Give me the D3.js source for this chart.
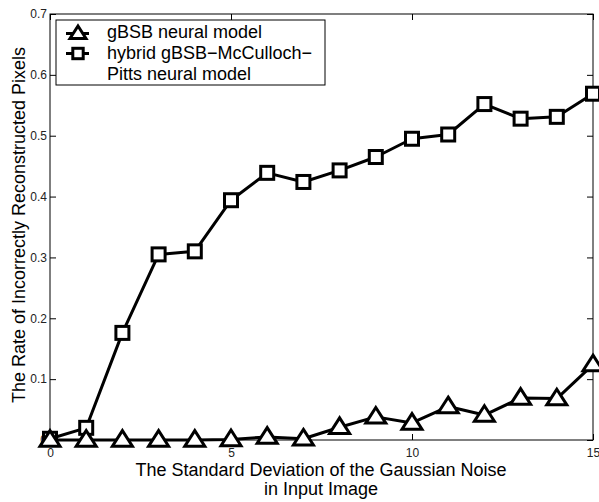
<!DOCTYPE html>
<html>
<head>
<meta charset="utf-8">
<script src="https://cdn.jsdelivr.net/npm/d3@7"></script>
<style>
  body { margin: 0; background: #fff; }
  svg text { font-family: "Liberation Sans", Arial, sans-serif; fill: #000; }
</style>
</head>
<body>
<svg id="plot" width="599" height="502"></svg>
<script>

// noise standard deviation
const NOISE = [0, 1, 2, 3, 4, 5, 6, 7, 8, 9, 10, 11, 12, 13, 14, 15];
// gBSB neural model
const GBSB = [0.0, 0.0, 0.0, 0.0, 0.0, 0.001, 0.005, 0.002, 0.021, 0.038, 0.028, 0.055, 0.041, 0.069, 0.068, 0.124];
// hybrid gBSB-McCulloch-Pitts
const HYBRID = [0.002, 0.02, 0.176, 0.305, 0.310, 0.394, 0.439, 0.424, 0.443, 0.465, 0.495, 0.502, 0.552, 0.528, 0.531, 0.569];

const X_TICKS = [0, 5, 10, 15];
const Y_TICKS = [0, 0.1, 0.2, 0.3, 0.4, 0.5, 0.6, 0.7];

const box = { left: 50, top: 14, right: 593, bottom: 440 };

function whenDocumentLoaded(action) {
	if (document.readyState === "loading") {
		document.addEventListener("DOMContentLoaded", action);
	} else {
		action();
	}
}

function trianglePath(s) {
	// upward triangle, centred on the point
	const h = s * 0.78;
	return `M0,${-h * 0.6}L${s / 2},${h * 0.4}L${-s / 2},${h * 0.4}Z`;
}

function drawMarker(g, type, x, y, scale) {
	scale = scale || 1;
	if (type === "tri") {
		g.append("path")
			.attr("transform", `translate(${x},${y})`)
			.attr("d", trianglePath(20 * scale))
			.style("fill", "white")
			.style("stroke", "black")
			.style("stroke-width", 3)
			.style("stroke-linejoin", "miter");
	} else {
		const s = 13 * scale;
		g.append("rect")
			.attr("x", x - s / 2)
			.attr("y", y - s / 2)
			.attr("width", s)
			.attr("height", s)
			.style("fill", "white")
			.style("stroke", "black")
			.style("stroke-width", 3);
	}
}

whenDocumentLoaded(() => {

	const svg = d3.select("#plot");

	const x = d3.scaleLinear().domain([0, 15]).range([box.left, box.right]);
	const y = d3.scaleLinear().domain([0, 0.7]).range([box.bottom, box.top]);

	// frame
	svg.append("rect")
		.attr("x", box.left)
		.attr("y", box.top)
		.attr("width", box.right - box.left)
		.attr("height", box.bottom - box.top)
		.style("fill", "white")
		.style("stroke", "black")
		.style("stroke-width", 1);

	const yFmt = d => d === 0 ? "0" : d3.format(".1f")(d);

	// axes, ticks pointing inwards
	const left = svg.append("g")
		.attr("transform", `translate(${box.left},0)`)
		.call(d3.axisLeft(y).tickValues(Y_TICKS).tickFormat(yFmt).tickSizeInner(-6).tickSizeOuter(0).tickPadding(3));
	const right = svg.append("g")
		.attr("transform", `translate(${box.right},0)`)
		.call(d3.axisRight(y).tickValues(Y_TICKS).tickFormat("").tickSizeInner(-6).tickSizeOuter(0));
	const bottom = svg.append("g")
		.attr("transform", `translate(0,${box.bottom})`)
		.call(d3.axisBottom(x).tickValues(X_TICKS).tickSizeInner(-6).tickSizeOuter(0).tickPadding(8));
	const top = svg.append("g")
		.attr("transform", `translate(0,${box.top})`)
		.call(d3.axisTop(x).tickValues(X_TICKS).tickFormat("").tickSizeInner(-6).tickSizeOuter(0));

	[left, right, bottom, top].forEach(a => {
		a.select(".domain").remove();
		a.selectAll("line").style("stroke", "black");
		a.selectAll("text")
			.style("font-family", '"Liberation Sans", Arial, sans-serif')
			.style("font-size", "12px")
			.style("fill", "#222");
	});

	// lines
	const series = [
		{ values: HYBRID, marker: "sq" },
		{ values: GBSB, marker: "tri" }
	];

	const line = d3.line()
		.x((d, i) => x(NOISE[i]))
		.y(d => y(d));

	series.forEach(s => {
		svg.append("path")
			.datum(s.values)
			.attr("d", line)
			.style("fill", "none")
			.style("stroke", "black")
			.style("stroke-width", 3)
			.style("stroke-linejoin", "round");
	});

	series.forEach(s => {
		const g = svg.append("g");
		s.values.forEach((v, i) => {
			drawMarker(g, s.marker, x(NOISE[i]), y(v));
		});
	});

	// legend
	const lg = svg.append("g");
	lg.append("rect")
		.attr("x", 56)
		.attr("y", 20)
		.attr("width", 269)
		.attr("height", 65)
		.style("fill", "white")
		.style("stroke", "black")
		.style("stroke-width", 1);

	const legendItems = [
		{ marker: "tri", lines: ["gBSB neural model"], y: 33.5, base: 38 },
		{ marker: "sq", lines: ["hybrid gBSB\u2212McCulloch\u2212", "Pitts neural model"], y: 53.5, base: 58.5 }
	];
	legendItems.forEach(it => {
		lg.append("line")
			.attr("x1", 66).attr("x2", 89)
			.attr("y1", it.y).attr("y2", it.y)
			.style("stroke", "black")
			.style("stroke-width", 3);
		drawMarker(lg, it.marker, 78, it.y, 0.8);
		it.lines.forEach((t, k) => {
			lg.append("text")
				.attr("x", 107)
				.attr("y", it.base + k * 21)
				.style("font-size", "18px")
				.text(t);
		});
	});

	// axis labels
	svg.append("text")
		.attr("x", 321)
		.attr("y", 476)
		.attr("text-anchor", "middle")
		.style("font-size", "18px")
		.text("The Standard Deviation of the Gaussian Noise");
	svg.append("text")
		.attr("x", 321)
		.attr("y", 494.5)
		.attr("text-anchor", "middle")
		.style("font-size", "18px")
		.text("in Input Image");

	svg.append("text")
		.attr("transform", `translate(25,225) rotate(-90)`)
		.attr("text-anchor", "middle")
		.style("font-size", "18px")
		.text("The Rate of Incorrectly Reconstructed Pixels");
});
</script>
</body>
</html>
